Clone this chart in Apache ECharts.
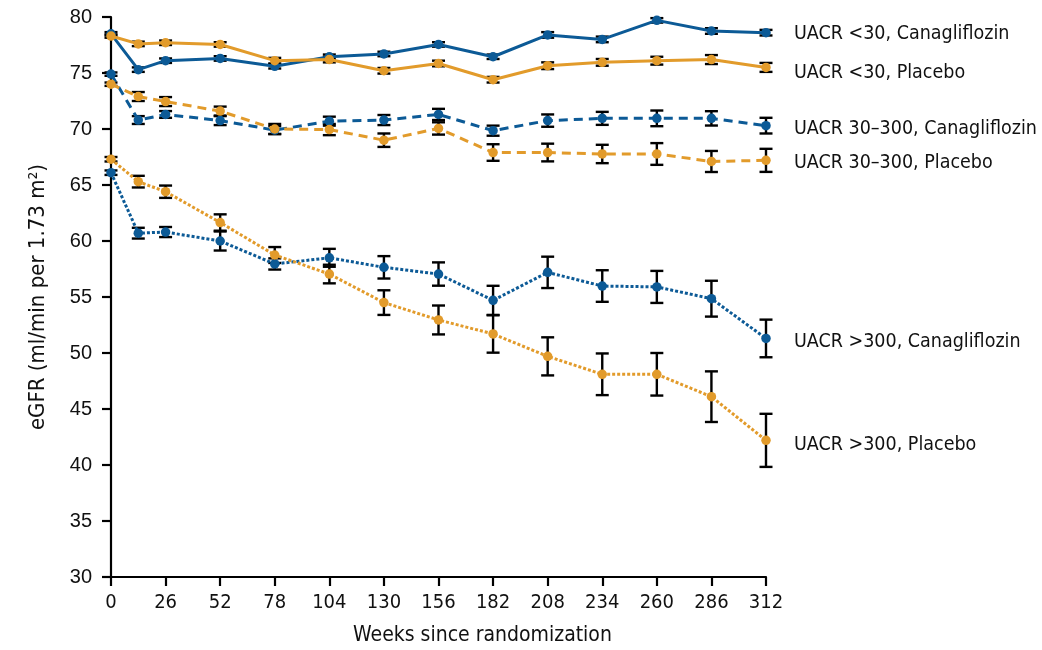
<!DOCTYPE html>
<html><head><meta charset="utf-8">
<script src="https://cdn.jsdelivr.net/npm/echarts@6/dist/echarts.min.js"></script>
<style>html,body{margin:0;padding:0;background:#fff}#c{width:1042px;height:650px}</style>
</head><body><div id="c"></div>
<script>
const weeks = [0,13,26,52,78,104,130,156,182,208,234,260,286,312];
const xTicks = [0,26,52,78,104,130,156,182,208,234,260,286,312];
const seriesNames = ['UACR <30, Canagliflozin','UACR <30, Placebo','UACR 30\u2013300, Canagliflozin','UACR 30\u2013300, Placebo','UACR >300, Canagliflozin','UACR >300, Placebo'];
const lt30Cana = [78.5,75.3,76.1,76.3,75.6,76.45,76.7,77.55,76.45,78.4,78.0,79.7,78.75,78.6];
const lt30Cana_err = [0.15,0.2,0.2,0.2,0.2,0.2,0.2,0.2,0.2,0.25,0.25,0.2,0.25,0.25];
const lt30Plac = [78.3,77.6,77.7,77.55,76.1,76.2,75.2,75.85,74.4,75.65,75.95,76.1,76.2,75.5];
const lt30Plac_err = [0.15,0.2,0.2,0.2,0.25,0.25,0.25,0.25,0.25,0.3,0.3,0.35,0.4,0.4];
const mid_Cana = [74.9,70.8,71.3,70.75,69.9,70.7,70.8,71.3,69.85,70.75,70.95,70.95,70.95,70.3];
const mid_Cana_err = [0.15,0.35,0.3,0.4,0.35,0.4,0.45,0.5,0.45,0.55,0.58,0.7,0.64,0.7];
const mid_Plac = [74.0,72.9,72.45,71.6,70.0,69.95,69.0,70.05,67.9,67.9,67.77,67.77,67.1,67.2];
const mid_Plac_err = [0.15,0.4,0.4,0.4,0.45,0.5,0.6,0.55,0.74,0.79,0.82,0.97,0.94,1.03];
const gt300Cana = [66.1,60.7,60.8,60.0,57.95,58.5,57.65,57.05,54.7,57.2,55.98,55.9,54.85,51.3];
const gt300Cana_err = [0.2,0.48,0.45,0.85,0.5,0.8,1.0,1.04,1.3,1.4,1.41,1.43,1.6,1.68];
const gt300Plac = [67.3,65.3,64.4,61.65,58.75,57.05,54.5,52.95,51.7,49.7,48.1,48.1,46.1,42.2];
const gt300Plac_err = [0.2,0.52,0.55,0.73,0.71,0.83,1.1,1.29,1.67,1.7,1.86,1.9,2.26,2.37];

const BLUE = '#0c5a96', ORANGE = '#e29b2b';
const NARROW = '"DejaVu Sans Condensed","Liberation Sans Narrow",sans-serif';
const defs = [
  {v: lt30Cana, e: lt30Cana_err, c: BLUE, t: 'solid', off: [0, 1]},
  {v: lt30Plac, e: lt30Plac_err, c: ORANGE, t: 'solid', off: [0, 6]},
  {v: mid_Cana, e: mid_Cana_err, c: BLUE, t: [9, 6], off: [0, 3]},
  {v: mid_Plac, e: mid_Plac_err, c: ORANGE, t: [9, 6], off: [0, 3]},
  {v: gt300Cana, e: gt300Cana_err, c: BLUE, t: [3, 2], off: [0, 3]},
  {v: gt300Plac, e: gt300Plac_err, c: ORANGE, t: [3, 2], off: [0, 5]}
];
const series = [];
defs.forEach((d, i) => {
  series.push({
    type: 'custom', z: 1, silent: true,
    data: weeks.map((w, k) => [w, d.v[k] - d.e[k], d.v[k] + d.e[k]]),
    renderItem: (params, api) => {
      const lo = api.coord([api.value(0), api.value(1)]);
      const hi = api.coord([api.value(0), api.value(2)]);
      const hw = 6.5;
      const st = {stroke: '#000', lineWidth: 2.4};
      return {type: 'group', children: [
        {type: 'line', shape: {x1: lo[0], y1: lo[1], x2: hi[0], y2: hi[1]}, style: st},
        {type: 'line', shape: {x1: lo[0]-hw, y1: lo[1], x2: lo[0]+hw, y2: lo[1]}, style: st},
        {type: 'line', shape: {x1: hi[0]-hw, y1: hi[1], x2: hi[0]+hw, y2: hi[1]}, style: st}
      ]};
    }
  });
  series.push({
    name: seriesNames[i], type: 'line', z: 2,
    data: weeks.map((w, k) => [w, d.v[k]]),
    symbol: 'circle', symbolSize: 9.5,
    itemStyle: {color: d.c},
    lineStyle: {color: d.c, width: 3, type: d.t},
    endLabel: {show: true, formatter: seriesNames[i], distance: 28, offset: d.off,
      color: '#111', fontSize: 19.5, fontFamily: NARROW}
  });
});

const chart = echarts.init(document.getElementById('c'), null, {renderer: 'canvas'});
chart.setOption({
  animation: false,
  grid: {left: 111, right: 276, top: 17, bottom: 73, outerBoundsMode: 'none', containLabel: false},
  xAxis: {
    type: 'value', min: 0, max: 312, interval: 26,
    name: 'Weeks since randomization', nameLocation: 'middle', nameGap: 48,
    nameTextStyle: {fontSize: 21, color: '#111', fontFamily: NARROW, padding: [0, 0, 0, 88]},
    axisLine: {lineStyle: {color: '#000', width: 2.2}},
    axisTick: {length: 9, lineStyle: {color: '#000', width: 2.2}},
    axisLabel: {fontSize: 20, color: '#111', margin: 16, fontFamily: NARROW,
      formatter: v => xTicks.includes(v) ? String(v) : ''},
    splitLine: {show: false}
  },
  yAxis: {
    type: 'value', min: 30, max: 80, interval: 5,
    name: 'eGFR (ml/min per 1.73 m\u00b2)', nameLocation: 'middle', nameGap: 62,
    nameTextStyle: {fontSize: 22, color: '#111', fontFamily: NARROW},
    axisLine: {show: true, lineStyle: {color: '#000', width: 2.2}},
    axisTick: {show: true, length: 9, lineStyle: {color: '#000', width: 2.2}},
    axisLabel: {fontSize: 20, color: '#111', margin: 19, fontFamily: '"Liberation Sans",Arimo,sans-serif'},
    splitLine: {show: false}
  },
  series: series
});
</script></body></html>
